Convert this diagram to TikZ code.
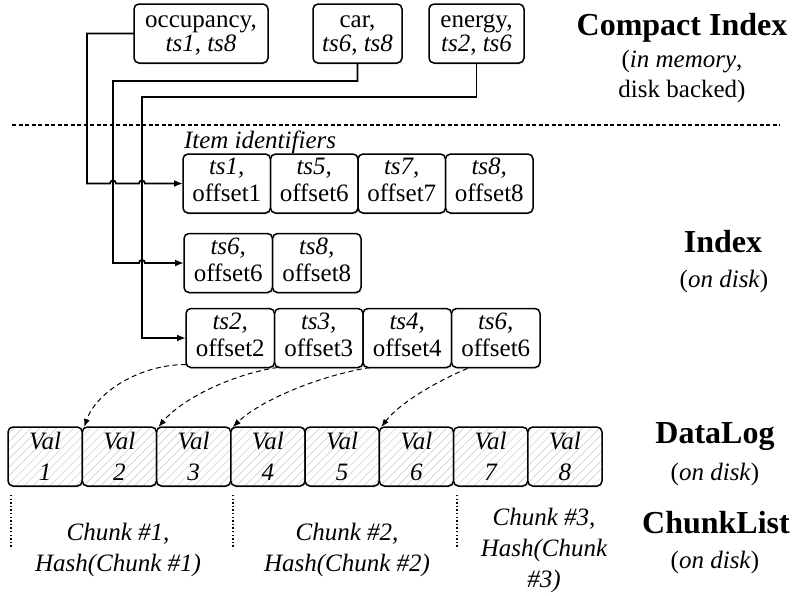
\documentclass[tikz,border=0pt]{standalone}
\usepackage{fontspec}
\setmainfont{Liberation Serif}
\usetikzlibrary{arrows.meta,patterns.meta,shadows,calc}

% vertical padding rules for the two-line cells
\newcommand\tallfirst{\rule{0pt}{16.5pt}}
\newcommand\deeplast{\rule[-7pt]{0pt}{7pt}}
\newcommand\ixtext[2]{\textit{#1}\\#2\deeplast}

\begin{document}
\begin{tikzpicture}[x=1pt,y=-1pt,
  txt/.style={font=\fontsize{25}{27}\selectfont, inner sep=0pt, outer sep=0pt},
  cell/.style={txt, draw, line width=1.5pt, rounded corners=5pt,
    minimum height=59pt, align=center,
    drop shadow={shadow xshift=0.6pt, shadow yshift=-1.6pt,
      fill=blue!25!gray!45, opacity=0.45},
    preaction={fill=white}},
  topcell/.style={cell, font=\fontsize{25}{24}\selectfont},
  valcell/.style={cell, minimum width=74.25pt,
    font=\fontsize{25}{31}\selectfont\itshape,
    pattern={Lines[angle=45,distance=6pt,line width=0.45pt]},
    pattern color=gray!45},
  conn/.style={line width=1.8pt, -{Latex[length=9pt,width=7pt]}},
  link/.style={line width=1pt, dash pattern=on 5pt off 3.5pt,
    -{Latex[length=8pt,width=6pt]}},
  sep/.style={line width=1.4pt, dash pattern=on 4pt off 2.5pt},
  chunksep/.style={line width=1.4pt, dash pattern=on 1.4pt off 2.2pt},
  ctext/.style={font=\fontsize{25}{31}\selectfont\itshape, inner sep=0pt, align=center},
  title/.style={font=\fontsize{32}{34}\selectfont\bfseries, inner sep=0pt, anchor=base},
  sub/.style={font=\fontsize{25}{30}\selectfont, inner sep=0pt, anchor=base, align=center}
]
\useasboundingbox (0,0) rectangle (794,595);

% compact index (in memory)
\node[topcell, minimum width=134pt] (occ) at (201,33.5) {\tallfirst occupancy,\\\textit{ts1}, \textit{ts8}};
\node[topcell, minimum width=89pt] (car) at (357.5,33.5) {\tallfirst car,\\\textit{ts6}, \textit{ts8}};
\node[topcell, minimum width=95pt] (energy) at (476.5,33.5) {\tallfirst energy,\\\textit{ts2}, \textit{ts6}};

% memory / disk boundary
\draw[sep] (12,125) -- (780,125);

\node[txt, anchor=base west, font=\fontsize{25}{27}\selectfont\itshape] (items) at (184,148) {Item identifiers};

% index rows (on disk)
\node[cell, minimum width=87.5pt] (r1a) at (226.75,183.5) {\ixtext{ts1,}{offset1}};
\node[cell, minimum width=87.5pt] (r1b) at (314.25,183.5) {\ixtext{ts5,}{offset6}};
\node[cell, minimum width=87.5pt] (r1c) at (401.75,183.5) {\ixtext{ts7,}{offset7}};
\node[cell, minimum width=87.5pt] (r1d) at (489.25,183.5) {\ixtext{ts8,}{offset8}};

\node[cell, minimum width=88.5pt] (r2a) at (228.25,263) {\ixtext{ts6,}{offset6}};
\node[cell, minimum width=88.5pt] (r2b) at (316.75,263) {\ixtext{ts8,}{offset8}};

\node[cell, minimum width=88.5pt] (r3a) at (230.25,338) {\ixtext{ts2,}{offset2}};
\node[cell, minimum width=88.5pt] (r3b) at (318.75,338) {\ixtext{ts3,}{offset3}};
\node[cell, minimum width=88.5pt] (r3c) at (407.25,338) {\ixtext{ts4,}{offset4}};
\node[cell, minimum width=88.5pt] (r3d) at (495.75,338) {\ixtext{ts6,}{offset6}};

% data log values
\foreach \i in {1,...,8}{
  \node[valcell] (v\i) at ({8+37.125+74.25*(\i-1)},456.5) {Val\\\i};
}

% routing lanes of the index pointers
\coordinate (laneA) at (87,0);
\coordinate (laneB) at (113,0);
\coordinate (laneC) at (142,0);
\coordinate (turnB) at (0,81);
\coordinate (turnC) at (0,97);

\draw[conn] (occ.west) -| (laneA |- r1a.west)
  -- ($(laneB |- r1a.west)+(-3,0)$) arc[start angle=180,end angle=360,radius=3]
  -- ($(laneC |- r1a.west)+(-3,0)$) arc[start angle=180,end angle=360,radius=3]
  -- (r1a.west);
\draw[conn] (car.south) |- (laneB |- turnB) -- (laneB |- r2a.west)
  -- ($(laneC |- r2a.west)+(-3,0)$) arc[start angle=180,end angle=360,radius=3]
  -- (r2a.west);
\draw[conn] (energy.south) |- (laneC |- turnC) -- (laneC |- r3a.west) -- (r3a.west);

% offsets into the data log
\coordinate (s2) at ($(r3a.south west)+(0,-3)$);
\coordinate (s3) at ($(r3b.south west)+(3,0)$);
\coordinate (s4) at ($(r3c.south west)+(7,0)$);
\coordinate (s6) at ($(r3d.south west)+(16,1)$);
\coordinate (t2) at ($(v2.north west)+(2,0)$);
\coordinate (t3) at ($(v3.north west)+(2,0)$);
\coordinate (t4) at ($(v4.north west)+(2,0)$);
\coordinate (t6) at ($(v6.north west)+(2,0)$);
\draw[link] (s2) .. controls ($(s2)+(-46,0)$) and ($(t2)+(12,-35)$) .. (t2);
\draw[link] (s3) .. controls ($(s3)+(-47,7)$) and ($(t3)+(22,-27)$) .. (t3);
\draw[link] (s4) .. controls ($(s4)+(-50,8)$) and ($(t4)+(28,-27)$) .. (t4);
\draw[link] (s6) .. controls ($(s6)+(-27,11)$) and ($(t6)+(19,-25)$) .. (t6);

% chunk boundaries
\draw[chunksep] (11,495) -- (11,549);
\draw[chunksep] (233,495) -- (233,549);
\draw[chunksep] (457,495) -- (457,549);

\node[ctext] (c1) at (118,550) {Chunk \#1,\\Hash(Chunk \#1)};
\node[ctext] (c2) at (347,550) {Chunk \#2,\\Hash(Chunk \#2)};
\node[ctext] (c3) at (544,550) {Chunk \#3,\\Hash(Chunk\\\#3)};

% layer labels
\node[title] (tci) at (682,35) {Compact Index};
\node[sub] (sci) at (682,97) {(\textit{in memory},\\disk backed)};
\node[title] (tix) at (723,252) {Index};
\node[sub] (six) at (724,287) {(\textit{on disk})};
\node[title] (tdl) at (715,443) {DataLog};
\node[sub] (sdl) at (715,480) {(\textit{on disk})};
\node[title] (tcl) at (716,533) {ChunkList};
\node[sub] (scl) at (715,568) {(\textit{on disk})};
\end{tikzpicture}
\end{document}
